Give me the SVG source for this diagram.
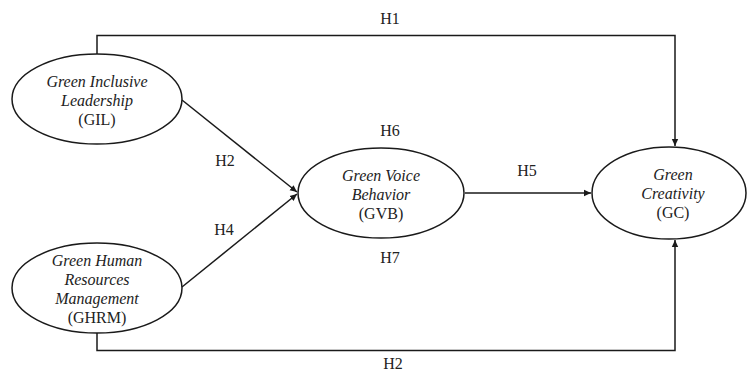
<svg xmlns="http://www.w3.org/2000/svg" width="747" height="374" viewBox="0 0 747 374">
<style>
.n{fill:#fff;stroke:#1a1a1a;stroke-width:1.5}
.t{font-family:"Liberation Serif","Times New Roman",serif;font-size:16px;fill:#222;text-anchor:middle}
.i{font-style:italic}
.c{fill:none;stroke:#1a1a1a;stroke-width:1.5}
</style>
<defs>
<marker id="ah" markerWidth="8" markerHeight="8" refX="7" refY="4" orient="auto" markerUnits="userSpaceOnUse">
<path d="M0,0.8 L7,4 L0,7.2 Z" fill="#1a1a1a"/>
</marker>
</defs>
<rect width="747" height="374" fill="#fff"/>
<g id="connectors">
<polyline class="c" points="97,54 97,35.5 675,35.5 675,146" marker-end="url(#ah)"/>
<polyline class="c" points="97,332 97,350.5 675,350.5 675,240" marker-end="url(#ah)"/>
<line class="c" x1="182" y1="100" x2="297" y2="192" marker-end="url(#ah)"/>
<line class="c" x1="182" y1="287" x2="297" y2="194" marker-end="url(#ah)"/>
<line class="c" x1="465" y1="193" x2="591" y2="193" marker-end="url(#ah)"/>
<text class="t" x="390" y="24">H1</text>
<text class="t" x="225" y="166">H2</text>
<text class="t" x="224" y="235">H4</text>
<text class="t" x="390" y="136">H6</text>
<text class="t" x="390" y="263">H7</text>
<text class="t" x="527" y="176">H5</text>
<text class="t" x="393" y="369">H2</text>
</g>
<g id="GIL">
<ellipse class="n" cx="97" cy="99" rx="85" ry="45"/>
<text class="t i" x="97" y="87">Green Inclusive</text>
<text class="t i" x="97" y="106">Leadership</text>
<text class="t" x="97" y="125">(GIL)</text>
</g>
<g id="GHRM">
<ellipse class="n" cx="97" cy="288" rx="85" ry="45"/>
<text class="t i" x="97" y="266">Green Human</text>
<text class="t i" x="97" y="285">Resources</text>
<text class="t i" x="97" y="304">Management</text>
<text class="t" x="97" y="323">(GHRM)</text>
</g>
<g id="GVB">
<ellipse class="n" cx="381" cy="193" rx="83" ry="45"/>
<text class="t i" x="381" y="181">Green Voice</text>
<text class="t i" x="381" y="200">Behavior</text>
<text class="t" x="381" y="219">(GVB)</text>
</g>
<g id="GC">
<ellipse class="n" cx="669" cy="193" rx="77" ry="46"/>
<text class="t i" x="673" y="180">Green</text>
<text class="t i" x="673" y="199">Creativity</text>
<text class="t" x="673" y="218">(GC)</text>
</g>
</svg>
